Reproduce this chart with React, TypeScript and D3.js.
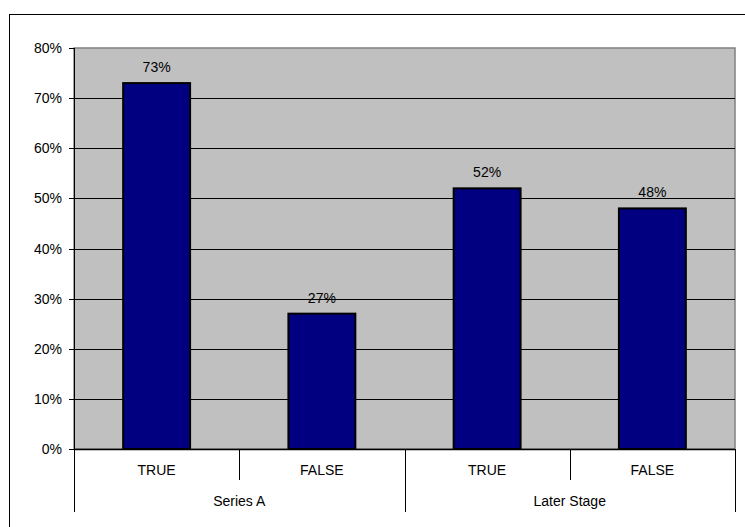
import * as d3 from 'd3';
import {useEffect, useRef} from 'react';

const groups = ['Series A', 'Later Stage'];
const categories = ['TRUE', 'FALSE'];
// values per group, in order of categories
const seriesA = [0.73, 0.27];
const laterStage = [0.52, 0.48];
const yTicks = [0, 0.1, 0.2, 0.3, 0.4, 0.5, 0.6, 0.7, 0.8];

const width = 745;
const height = 527;

function App() {
  const ref = useRef<HTMLDivElement>(null);

  useEffect(() => {
    const rows = [
      ...categories.map((c, i) => ({group: groups[0], cat: c, v: seriesA[i]})),
      ...categories.map((c, i) => ({group: groups[1], cat: c, v: laterStage[i]})),
    ];
    const key = (d: {group: string; cat: string}) => `${d.group}|${d.cat}`;

    const left = 74;
    const right = 735;
    const top = 48;
    const bottom = 449;
    const fs = 14;

    const x = d3.scaleBand().domain(rows.map(key)).range([left, right]).paddingInner(0.595).paddingOuter(0.2975);
    const xCell = d3.scaleBand().domain(rows.map(key)).range([left, right]);
    const y = d3.scaleLinear().domain([0, 0.8]).range([bottom, top]);
    const fmt = d3.format('.0%');

    const svg = d3
      .select(ref.current)
      .append('svg')
      .attr('width', width)
      .attr('height', height)
      .style('position', 'absolute')
      .style('left', '0px')
      .style('top', '0px')
      .style('font-family', '"Liberation Sans", Arial, sans-serif');

    svg.append('rect').attr('width', width).attr('height', height).attr('fill', '#fff');

    // chart frame
    svg
      .append('rect')
      .attr('x', 9.5)
      .attr('y', 14.5)
      .attr('width', width)
      .attr('height', height)
      .attr('fill', 'none')
      .attr('stroke', '#000');

    // plot area
    svg
      .append('rect')
      .attr('x', left)
      .attr('y', top)
      .attr('width', right - left)
      .attr('height', bottom - top)
      .attr('fill', '#c0c0c0')
      .attr('stroke', '#808080')
      .attr('stroke-width', 1.5);

    svg
      .append('g')
      .selectAll('line')
      .data(yTicks.filter(t => t > 0 && t < 0.8))
      .join('line')
      .attr('x1', left)
      .attr('x2', right)
      .attr('y1', d => Math.round(y(d)) + 0.5)
      .attr('y2', d => Math.round(y(d)) + 0.5)
      .attr('stroke', '#000')
      .attr('stroke-width', 1);

    // y axis
    const yAxis = svg.append('g');
    yAxis
      .append('line')
      .attr('x1', left + 0.5)
      .attr('x2', left + 0.5)
      .attr('y1', top)
      .attr('y2', bottom)
      .attr('stroke', '#000');
    const yt = yAxis.selectAll('g').data(yTicks).join('g');
    yt.append('line')
      .attr('x1', left - 5)
      .attr('x2', left)
      .attr('y1', d => Math.round(y(d)) + 0.5)
      .attr('y2', d => Math.round(y(d)) + 0.5)
      .attr('stroke', '#000');
    yt.append('text')
      .attr('x', 62)
      .attr('y', d => y(d) + 5)
      .attr('text-anchor', 'end')
      .attr('font-size', fs)
      .text(d => fmt(d));

    // bars
    svg
      .append('g')
      .selectAll('rect')
      .data(rows)
      .join('rect')
      .attr('x', d => x(key(d))!)
      .attr('y', d => y(d.v))
      .attr('width', x.bandwidth())
      .attr('height', d => bottom - y(d.v))
      .attr('fill', '#000080')
      .attr('stroke', '#000')
      .attr('stroke-width', 2);

    svg
      .append('g')
      .selectAll('text')
      .data(rows)
      .join('text')
      .attr('x', d => x(key(d))! + x.bandwidth() / 2)
      .attr('y', d => y(d.v) - 11)
      .attr('text-anchor', 'middle')
      .attr('font-size', fs)
      .text(d => fmt(d.v));

    // x axis
    svg
      .append('line')
      .attr('x1', left)
      .attr('x2', right)
      .attr('y1', bottom + 0.5)
      .attr('y2', bottom + 0.5)
      .attr('stroke', '#000')
      .attr('stroke-width', 1.5);

    const xa = svg.append('g');
    const bounds = rows.map((d, i) => ({i, x: xCell(key(d))!, d}));
    xa.selectAll('line.cat')
      .data(bounds.filter(b => b.d.cat !== categories[0]))
      .join('line')
      .attr('class', 'cat')
      .attr('x1', b => Math.round(b.x) + 0.5)
      .attr('x2', b => Math.round(b.x) + 0.5)
      .attr('y1', bottom)
      .attr('y2', 480)
      .attr('stroke', '#000');
    const groupEdges = [left, ...groups.map((g, i) => (i === groups.length - 1 ? right : xCell(`${groups[i + 1]}|${categories[0]}`)!))];
    xa.selectAll('line.grp')
      .data(groupEdges)
      .join('line')
      .attr('class', 'grp')
      .attr('x1', d => Math.round(d) + 0.5)
      .attr('x2', d => Math.round(d) + 0.5)
      .attr('y1', bottom)
      .attr('y2', 512)
      .attr('stroke', '#000');
    xa.selectAll('text.cat')
      .data(rows)
      .join('text')
      .attr('class', 'cat')
      .attr('x', d => xCell(key(d))! + xCell.bandwidth() / 2)
      .attr('y', 475)
      .attr('text-anchor', 'middle')
      .attr('font-size', fs)
      .text(d => d.cat);
    xa.selectAll('text.grp')
      .data(groups)
      .join('text')
      .attr('class', 'grp')
      .attr('x', (g, i) => (groupEdges[i] + groupEdges[i + 1]) / 2)
      .attr('y', 506)
      .attr('text-anchor', 'middle')
      .attr('font-size', fs)
      .text(g => g);

    return () => {
      svg.remove();
    };
  }, []);

  return <div ref={ref}></div>;
}

export default App;
